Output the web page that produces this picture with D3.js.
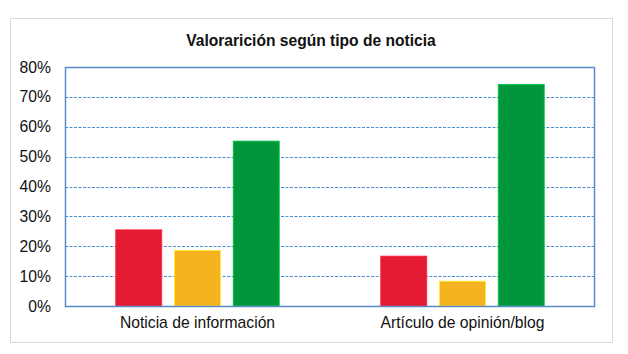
<!DOCTYPE html>
<html>
<head>
<meta charset="utf-8">
<script src="https://cdn.jsdelivr.net/npm/d3@7"></script>
<style>
  body { margin: 0; background: #fff; }
  svg { font-family: "Liberation Sans", Arial, sans-serif; }
</style>
</head>
<body>
<svg id="chart"></svg>
<script>
const width = 628;
const height = 354;

// data
const categories = ["Noticia de información", "Artículo de opinión/blog"];
const series = ["Negativa", "Neutra", "Positiva"];
const colors = ["#e31c33", "#f6b320", "#00973a"];
const values = [
    [0.255, 0.186, 0.552],
    [0.167, 0.083, 0.742]
];
const yTicks = [0, 0.1, 0.2, 0.3, 0.4, 0.5, 0.6, 0.7, 0.8];

const margin = {top: 67, right: 33, bottom: 48, left: 65};

const svg = d3.select("#chart")
    .attr("width", width)
    .attr("height", height);

// outer frame
svg.append("rect")
    .attr("x", 10.5).attr("y", 18.5)
    .attr("width", 602).attr("height", 324)
    .attr("fill", "#fff")
    .attr("stroke", "#d9d9d9");

svg.append("text")
    .attr("x", 311)
    .attr("y", 46)
    .attr("text-anchor", "middle")
    .attr("font-size", 15.6)
    .attr("font-weight", "bold")
    .attr("fill", "#111")
    .text("Valorarición según tipo de noticia");

const x0 = d3.scaleBand()
    .domain(categories)
    .range([margin.left, width - margin.right])
    .paddingInner(0.383)
    .paddingOuter(0.1915);

const x1 = d3.scaleBand()
    .domain(series)
    .range([0, x0.bandwidth()])
    .paddingInner(0.216);

const y = d3.scaleLinear()
    .domain([0, 0.8])
    .range([height - margin.bottom, margin.top]);

// dashed grid
svg.append("g")
    .selectAll("line")
    .data(yTicks.filter(d => d > 0 && d < 0.8))
    .enter().append("line")
    .attr("x1", margin.left)
    .attr("x2", width - margin.right)
    .attr("y1", d => Math.round(y(d)) + 0.5)
    .attr("y2", d => Math.round(y(d)) + 0.5)
    .attr("stroke", "#4a8fd0")
    .attr("stroke-dasharray", "3,1.5");

// bars
const groups = svg.append("g")
    .selectAll("g")
    .data(categories)
    .enter().append("g")
    .attr("transform", d => `translate(${x0(d)},0)`);

groups.selectAll("rect")
    .data((d, i) => values[i].map((v, j) => ({key: series[j], value: v, color: colors[j]})))
    .enter().append("rect")
    .attr("x", d => x1(d.key))
    .attr("y", d => y(d.value))
    .attr("width", x1.bandwidth())
    .attr("height", d => y(0) - y(d.value))
    .attr("fill", d => d.color)
    .attr("stroke", d => d3.color(d.color).brighter(0.8))
    .attr("stroke-width", 0.8);

// plot border
svg.append("rect")
    .attr("x", margin.left + 0.5)
    .attr("y", margin.top + 0.5)
    .attr("width", width - margin.left - margin.right - 1)
    .attr("height", height - margin.top - margin.bottom)
    .attr("fill", "none")
    .attr("stroke", "#5a8ac6")
    .attr("stroke-width", 1.5);

// y axis labels
const yAxis = svg.append("g")
    .attr("transform", `translate(${margin.left},0)`)
    .call(d3.axisLeft(y).tickValues(yTicks).tickFormat(d3.format(".0%")).tickSize(0).tickPadding(14));
yAxis.select(".domain").remove();
yAxis.selectAll("text")
    .attr("font-size", 15.7)
    .attr("fill", "#111")
    .attr("font-family", "'Liberation Sans', Arial, sans-serif");

// x axis labels
const xAxis = svg.append("g")
    .attr("transform", `translate(0,${height - margin.bottom})`)
    .call(d3.axisBottom(x0).tickSize(0).tickPadding(11));
xAxis.select(".domain").remove();
xAxis.selectAll("text")
    .attr("font-size", 15.7)
    .attr("fill", "#111")
    .attr("font-family", "'Liberation Sans', Arial, sans-serif");
</script>
</body>
</html>
